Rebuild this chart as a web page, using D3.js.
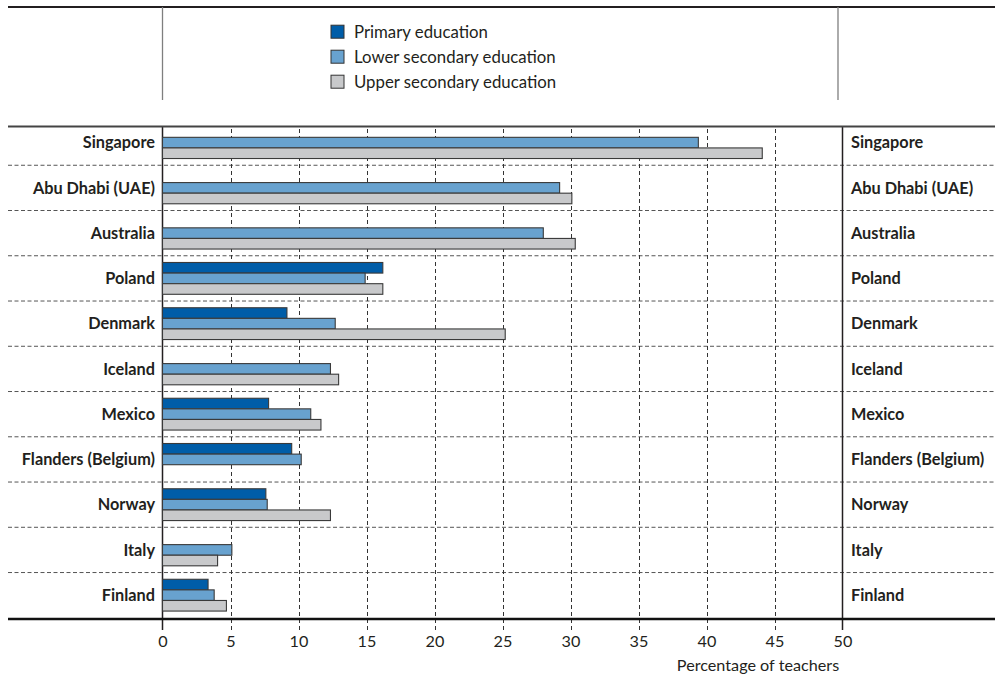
<!DOCTYPE html>
<html><head><meta charset="utf-8">
<script src="https://cdn.jsdelivr.net/npm/d3@7"></script>
<style>body{margin:0;background:#fff}svg{display:block}text{font-family:Lato,"Open Sans",sans-serif;fill:#231f20}</style>
</head><body><svg id="c" width="995" height="674"></svg>
<script>
const countries = ["Singapore","Abu Dhabi (UAE)","Australia","Poland","Denmark","Iceland","Mexico","Flanders (Belgium)","Norway","Italy","Finland"];
const seriesNames = ["Primary education","Lower secondary education","Upper secondary education"];
const primary = [null,null,null,16.2,9.15,null,7.8,9.5,7.6,null,3.35];
const lowerSecondary = [39.4,29.2,28.0,14.9,12.7,12.35,10.9,10.2,7.7,5.1,3.8];
const upperSecondary = [44.1,30.1,30.35,16.2,25.2,12.95,11.65,null,12.35,4.05,4.7];
const xTicks = [0,5,10,15,20,25,30,35,40,45,50];
const colors = ["#005da8","#68a2cf","#c8c9cb"];
const axisTitle = "Percentage of teachers";

const svg = d3.select("#c");
const x = d3.scaleLinear().domain([0,50]).range([162.5,842.5]);
const y = d3.scaleBand().domain(countries).range([120,617.8]).padding(0);
const sub = d3.scaleBand().domain([0,1,2]).range([0,31.8]);
const series = [primary, lowerSecondary, upperSecondary];

// top frame
svg.append("line").attr("x1",8).attr("x2",995).attr("y1",7).attr("y2",7).attr("stroke","#231f20").attr("stroke-width",2);
[162.5,838].forEach(px=>svg.append("line").attr("x1",px).attr("x2",px).attr("y1",7).attr("y2",100).attr("stroke","#7f7f7f").attr("stroke-width",1.3));

// legend
const lg = svg.append("g");
seriesNames.forEach((n,i)=>{
  const cy = 31.7 + i*25;
  lg.append("rect").attr("x",331).attr("y",cy-6.5).attr("width",13).attr("height",13).attr("fill",colors[i]).attr("stroke","#333").attr("stroke-width",1);
  lg.append("text").attr("x",354).attr("y",cy).attr("dy","0.35em").attr("font-size",16.8).text(n);
});

// horizontal separators
countries.slice(1).forEach(c=>{
  svg.append("line").attr("x1",8).attr("x2",995).attr("y1",y(c)).attr("y2",y(c))
    .attr("stroke","#555").attr("stroke-width",1).attr("stroke-dasharray","4,2.5");
});

// vertical gridlines via axis
const gridAxis = d3.axisBottom(x).tickValues(xTicks.slice(1,-1)).tickSize(-(630-126.5)).tickFormat("");
const gg = svg.append("g").attr("transform","translate(0,630)").call(gridAxis);
gg.select(".domain").remove();
gg.selectAll("line").attr("stroke","#333").attr("stroke-width",1).attr("stroke-dasharray","4,3").attr("shape-rendering","crispEdges");

// solid vertical lines at 0 and 50
[0,50].forEach(v=>svg.append("line").attr("x1",x(v)).attr("x2",x(v)).attr("y1",126.5).attr("y2",630).attr("stroke","#231f20").attr("stroke-width",1.5));

// top and bottom solid lines
svg.append("line").attr("x1",8).attr("x2",995).attr("y1",126.5).attr("y2",126.5).attr("stroke","#444").attr("stroke-width",2.2);
svg.append("line").attr("x1",8).attr("x2",995).attr("y1",619).attr("y2",619).attr("stroke","#111").attr("stroke-width",2.5);

// bars
series.forEach((vals,si)=>{
  svg.append("g").selectAll("rect").data(countries.map((c,i)=>({c,v:vals[i]})).filter(d=>d.v!=null))
    .join("rect")
    .attr("x",x(0)).attr("width",d=>x(d.v)-x(0))
    .attr("y",d=>y(d.c)+y.bandwidth()/2-15.9+sub(si)).attr("height",sub.bandwidth())
    .attr("fill",colors[si]).attr("stroke","#3a3a3a").attr("stroke-width",1.1);
});

// country labels
const lab = svg.append("g");
countries.forEach(c=>{
  const cy = y(c)+y.bandwidth()/2;
  lab.append("text").attr("x",155).attr("y",cy).attr("dy","0.35em").attr("text-anchor","end").attr("font-size",16.3).attr("font-weight","bold").text(c);
  lab.append("text").attr("x",851).attr("y",cy).attr("dy","0.35em").attr("text-anchor","start").attr("font-size",16.3).attr("font-weight","bold").text(c);
});

// x axis labels
const ax = d3.axisBottom(x).tickValues(xTicks).tickSize(0).tickPadding(0);
const ag = svg.append("g").attr("transform","translate(0,635)").call(ax);
ag.select(".domain").remove();
ag.selectAll("text").attr("font-size",16.2).attr("fill","#231f20").style("font-family","Lato, 'Open Sans', sans-serif");
svg.append("text").attr("x",758).attr("y",665).attr("dy","0.35em").attr("text-anchor","middle").attr("font-size",16.2).text(axisTitle);
</script></body></html>
